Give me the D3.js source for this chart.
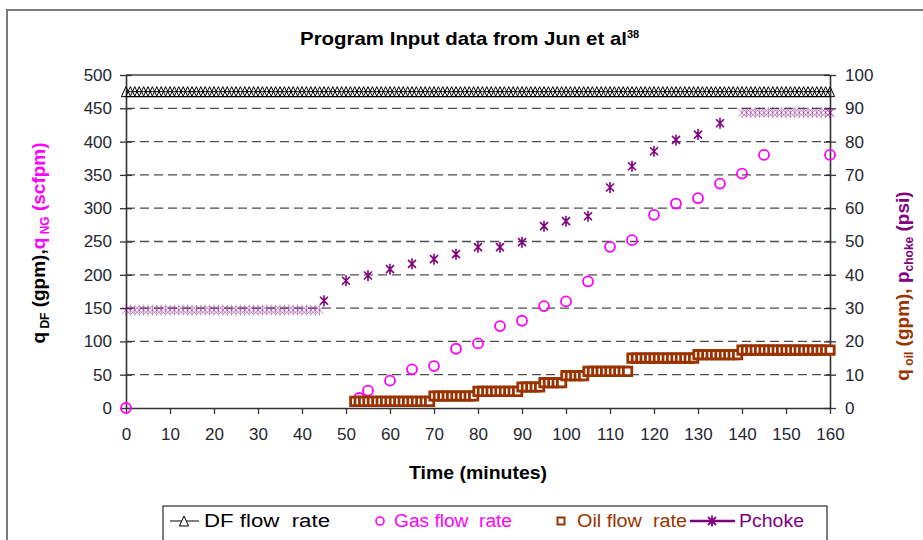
<!DOCTYPE html>
<html><head><meta charset="utf-8">
<script src="https://cdn.jsdelivr.net/npm/d3@7"></script>
<style>
html,body{margin:0;padding:0;background:#fff;}
text{font-family:"Liberation Sans",Arial,sans-serif;}
</style></head>
<body>
<svg id="chart" width="923" height="540"></svg>
<script>
// ---- data ----
const dfTime = [0,1,2,3,4,5,6,7,8,9,10,11,12,13,14,15,16,17,18,19,20,21,22,23,24,25,26,27,28,29,30,31,32,33,34,35,36,37,38,39,40,41,42,43,44,45,46,47,48,49,50,51,52,53,54,55,56,57,58,59,60,61,62,63,64,65,66,67,68,69,70,71,72,73,74,75,76,77,78,79,80,81,82,83,84,85,86,87,88,89,90,91,92,93,94,95,96,97,98,99,100,101,102,103,104,105,106,107,108,109,110,111,112,113,114,115,116,117,118,119,120,121,122,123,124,125,126,127,128,129,130,131,132,133,134,135,136,137,138,139,140,141,142,143,144,145,146,147,148,149,150,151,152,153,154,155,156,157,158,159,160];
const dfRate = [475,475,475,475,475,475,475,475,475,475,475,475,475,475,475,475,475,475,475,475,475,475,475,475,475,475,475,475,475,475,475,475,475,475,475,475,475,475,475,475,475,475,475,475,475,475,475,475,475,475,475,475,475,475,475,475,475,475,475,475,475,475,475,475,475,475,475,475,475,475,475,475,475,475,475,475,475,475,475,475,475,475,475,475,475,475,475,475,475,475,475,475,475,475,475,475,475,475,475,475,475,475,475,475,475,475,475,475,475,475,475,475,475,475,475,475,475,475,475,475,475,475,475,475,475,475,475,475,475,475,475,475,475,475,475,475,475,475,475,475,475,475,475,475,475,475,475,475,475,475,475,475,475,475,475,475,475,475,475,475,475];

const gasTime = [0,53,55,60,65,70,75,80,85,90,95,100,105,110,115,120,125,130,135,140,145,160];
const gasRate = [0,15,26,41,58,63,89,97,123,131,153,160,190,242,252,290,307,315,337,352,380,380];

const oilTime = [52,53,54,55,56,57,58,59,60,61,62,63,64,65,66,67,68,69,70,71,72,73,74,75,76,77,78,79,80,81,82,83,84,85,86,87,88,89,90,91,92,93,94,95,96,97,98,99,100,101,102,103,104,105,106,107,108,109,110,111,112,113,114,115,116,117,118,119,120,121,122,123,124,125,126,127,128,129,130,131,132,133,134,135,136,137,138,139,140,141,142,143,144,145,146,147,148,149,150,151,152,153,154,155,156,157,158,159,160];
const oilRate = [2,2,2,2,2,2,2,2,2,2,2,2,2,2,2,2,2,2,
  3.6,3.6,3.6,3.6,3.6,3.6,3.6,3.6,3.6,3.6,
  5,5,5,5,5,5,5,5,5,5,
  6.3,6.3,6.3,6.3,6.3,
  7.6,7.6,7.6,7.6,7.6,
  9.7,9.7,9.7,9.7,9.7,
  11,11,11,11,11,11,11,11,11,11,
  15,15,15,15,15,15,15,15,15,15,15,15,15,15,15,
  16,16,16,16,16,16,16,16,16,16,
  17.4,17.4,17.4,17.4,17.4,17.4,17.4,17.4,17.4,17.4,17.4,17.4,17.4,17.4,17.4,17.4,17.4,17.4,17.4,17.4,17.4];

const pchokeTime = [0,1,2,3,4,5,6,7,8,9,10,11,12,13,14,15,16,17,18,19,20,21,22,23,24,25,26,27,28,29,30,31,32,33,34,35,36,37,38,39,40,41,42,43,44,
  45,50,55,60,65,70,75,80,85,90,95,100,105,110,115,120,125,130,135,
  140,141,142,143,144,145,146,147,148,149,150,151,152,153,154,155,156,157,158,159,160];
const pchoke = [29.4,29.4,29.4,29.4,29.4,29.4,29.4,29.4,29.4,29.4,29.4,29.4,29.4,29.4,29.4,29.4,29.4,29.4,29.4,29.4,29.4,29.4,29.4,29.4,29.4,29.4,29.4,29.4,29.4,29.4,29.4,29.4,29.4,29.4,29.4,29.4,29.4,29.4,29.4,29.4,29.4,29.4,29.4,29.4,29.4,
  32.2,38.2,39.8,41.7,43.3,44.7,46.2,48.3,48.3,49.8,54.6,56.1,57.6,66.2,72.6,77.1,80.5,82.1,85.5,
  88.7,88.7,88.7,88.7,88.7,88.7,88.7,88.7,88.7,88.7,88.7,88.7,88.7,88.7,88.7,88.7,88.7,88.7,88.7,88.7,88.7];

const xTicks = [0,10,20,30,40,50,60,70,80,90,100,110,120,130,140,150,160];
const yLeftTicks = [0,50,100,150,200,250,300,350,400,450,500];
const yRightTicks = [0,10,20,30,40,50,60,70,80,90,100];
const legendLabels = ["DF flow  rate","Gas flow  rate","Oil flow  rate","Pchoke"];

// ---- drawing ----
const svg = d3.select("#chart");
const C = {df:"#000000", gas:"#FF00FF", oil:"#993300", pc:"#800080", grid:"#4d4d4d", axis:"#333333", tick:"#262630"};

const x = d3.scaleLinear().domain([0,160]).range([126,830]);
const yL = d3.scaleLinear().domain([0,500]).range([408,75]);
const yR = d3.scaleLinear().domain([0,100]).range([408,75]);

// outer frame
svg.append("path").attr("d","M7,540 L7,10 L923,10").attr("fill","none").attr("stroke","#7a7a7a").attr("stroke-width",2);

// title
const title = svg.append("text").attr("x",300).attr("y",45).attr("font-size",18.5).attr("font-weight","bold").attr("fill","#000");
title.append("tspan").text("Program Input data from Jun et al").attr("textLength",327).attr("lengthAdjust","spacingAndGlyphs");
title.append("tspan").text("38").attr("font-size",11).attr("dy",-7);

// gridlines
svg.append("g").selectAll("line").data(yLeftTicks.filter(v=>v>0 && v<500)).join("line")
  .attr("x1",x(0)).attr("x2",x(160)).attr("y1",d=>yL(d)).attr("y2",d=>yL(d))
  .attr("stroke",C.grid).attr("stroke-width",1.3).attr("stroke-dasharray","9,5");
// top border line
svg.append("line").attr("x1",x(0)).attr("x2",x(160)).attr("y1",yL(500)).attr("y2",yL(500)).attr("stroke","#444").attr("stroke-width",1.5);

// axes
function styleAxis(g){
  g.select(".domain").attr("stroke",C.axis).attr("stroke-width",1.6);
  g.selectAll(".tick line").attr("stroke",C.axis).attr("stroke-width",1.3);
  g.selectAll(".tick text").attr("font-size",17).attr("fill",C.tick).attr("font-family","Liberation Sans, Arial, sans-serif");
}
const gL = svg.append("g").attr("transform",`translate(${x(0)},0)`)
  .call(d3.axisLeft(yL).tickValues(yLeftTicks).tickSize(6).tickPadding(8).tickSizeOuter(0));
gL.selectAll(".tick line").attr("x1",6);
styleAxis(gL);
const gR = svg.append("g").attr("transform",`translate(${x(160)},0)`)
  .call(d3.axisRight(yR).tickValues(yRightTicks).tickSize(6).tickPadding(9).tickSizeOuter(0));
gR.selectAll(".tick line").attr("x1",-6);
styleAxis(gR);
const gB = svg.append("g").attr("transform",`translate(0,${yL(0)})`)
  .call(d3.axisBottom(x).tickValues(xTicks).tickSize(6).tickPadding(14).tickSizeOuter(0));
styleAxis(gB);

// axis titles
svg.append("text").attr("x",478).attr("y",479).attr("text-anchor","middle").attr("font-size",18.5).attr("font-weight","bold")
  .text("Time (minutes)").attr("textLength",138).attr("lengthAdjust","spacingAndGlyphs");

const lt = svg.append("text").attr("transform","translate(45,243) rotate(-90)").attr("text-anchor","middle")
  .attr("font-size",19).attr("font-weight","bold");
lt.append("tspan").text("q").attr("fill","#000");
lt.append("tspan").text(" DF").attr("font-size",12).attr("baseline-shift","-4").attr("fill","#000");
lt.append("tspan").text(" (gpm),").attr("fill","#000");
lt.append("tspan").text("q").attr("fill",C.gas);
lt.append("tspan").text(" NG").attr("font-size",12).attr("baseline-shift","-4").attr("fill",C.gas);
lt.append("tspan").text(" (scfpm)").attr("fill",C.gas);

const rt = svg.append("text").attr("transform","translate(909,286) rotate(-90)").attr("text-anchor","middle")
  .attr("font-size",19).attr("font-weight","bold");
rt.append("tspan").text("q").attr("fill",C.oil);
rt.append("tspan").text(" oil").attr("font-size",12).attr("baseline-shift","-4").attr("fill",C.oil);
rt.append("tspan").text(" (gpm), ").attr("fill",C.oil);
rt.append("tspan").text("p").attr("fill",C.pc);
rt.append("tspan").text("choke").attr("font-size",12).attr("baseline-shift","-4").attr("fill",C.pc);
rt.append("tspan").text(" (psi)").attr("fill",C.pc);

// markers
const triPath = "M0,-5L4.6,5L-4.6,5Z";
const astPath = "M-4,-4L4,4M-4,4L4,-4M0,-5.5L0,5.5";
const sqPath = "M-4.2,-4.2H4.2V4.2H-4.2Z";

const dfData = dfTime.map((t,i)=>({t,v:dfRate[i]}));
const gasData = gasTime.map((t,i)=>({t,v:gasRate[i]}));
const oilData = oilTime.map((t,i)=>({t,v:oilRate[i]}));
const pcData = pchokeTime.map((t,i)=>({t,v:pchoke[i]}));

// DF line + triangles
svg.append("path").datum(dfData).attr("fill","none").attr("stroke",C.df).attr("stroke-width",1)
  .attr("d",d3.line().x(d=>x(d.t)).y(d=>yL(d.v)));
svg.append("g").selectAll("path").data(dfData).join("path")
  .attr("transform",d=>`translate(${x(d.t)},${yL(d.v)})`).attr("d",triPath)
  .attr("fill","none").attr("stroke",C.df).attr("stroke-width",1);

// Gas circles
svg.append("g").selectAll("circle").data(gasData).join("circle")
  .attr("cx",d=>x(d.t)).attr("cy",d=>yL(d.v)).attr("r",5)
  .attr("fill","none").attr("stroke",C.gas).attr("stroke-width",1.8);

// Oil squares
svg.append("g").selectAll("path").data(oilData).join("path")
  .attr("transform",d=>`translate(${x(d.t)},${yR(d.v)})`).attr("d",sqPath)
  .attr("fill","#fff").attr("stroke",C.oil).attr("stroke-width",2.8);

// Pchoke asterisks (dense runs drawn lighter, as they render in the reference)
const dense = d => d.t < 45 || d.t > 135;
svg.append("g").selectAll("path").data(pcData).join("path")
  .attr("transform",d=>`translate(${x(d.t)},${yR(d.v)})`).attr("d",astPath)
  .attr("fill","none").attr("stroke",C.pc)
  .attr("stroke-width",d=>dense(d)?0.9:1.6)
  .attr("stroke-opacity",d=>dense(d)&&d.t!==160?0.5:1);

// legend
const lg = svg.append("g");
lg.append("rect").attr("x",163).attr("y",506).attr("width",664).attr("height",44).attr("fill","#fff").attr("stroke","#000").attr("stroke-width",1);
const ly = 521;
lg.append("line").attr("x1",170).attr("x2",199).attr("y1",ly).attr("y2",ly).attr("stroke",C.df).attr("stroke-width",1);
lg.append("path").attr("transform",`translate(184,${ly})`).attr("d",triPath).attr("fill","#fff").attr("stroke",C.df);
lg.append("text").attr("x",204).attr("y",ly+6).attr("font-size",18).attr("fill","#000").attr("xml:space","preserve")
  .text(legendLabels[0]).attr("textLength",126).attr("lengthAdjust","spacingAndGlyphs");
lg.append("circle").attr("cx",380).attr("cy",ly).attr("r",4).attr("fill","none").attr("stroke",C.gas).attr("stroke-width",1.6);
lg.append("text").attr("x",394).attr("y",ly+6).attr("font-size",18).attr("fill",C.gas).attr("xml:space","preserve")
  .text(legendLabels[1]).attr("textLength",118).attr("lengthAdjust","spacingAndGlyphs");
lg.append("path").attr("transform",`translate(561,${ly})`).attr("d","M-3.5,-3.5H3.5V3.5H-3.5Z").attr("fill","#fff").attr("stroke",C.oil).attr("stroke-width",2);
lg.append("text").attr("x",577).attr("y",ly+6).attr("font-size",18).attr("fill",C.oil).attr("xml:space","preserve")
  .text(legendLabels[2]).attr("textLength",110).attr("lengthAdjust","spacingAndGlyphs");
lg.append("line").attr("x1",690).attr("x2",735).attr("y1",ly).attr("y2",ly).attr("stroke",C.pc).attr("stroke-width",2.5);
lg.append("path").attr("transform",`translate(712,${ly})`).attr("d",astPath).attr("fill","none").attr("stroke",C.pc).attr("stroke-width",1.8);
lg.append("text").attr("x",739).attr("y",ly+6).attr("font-size",18).attr("fill",C.pc)
  .text(legendLabels[3]).attr("textLength",65).attr("lengthAdjust","spacingAndGlyphs");
</script>
</body></html>
